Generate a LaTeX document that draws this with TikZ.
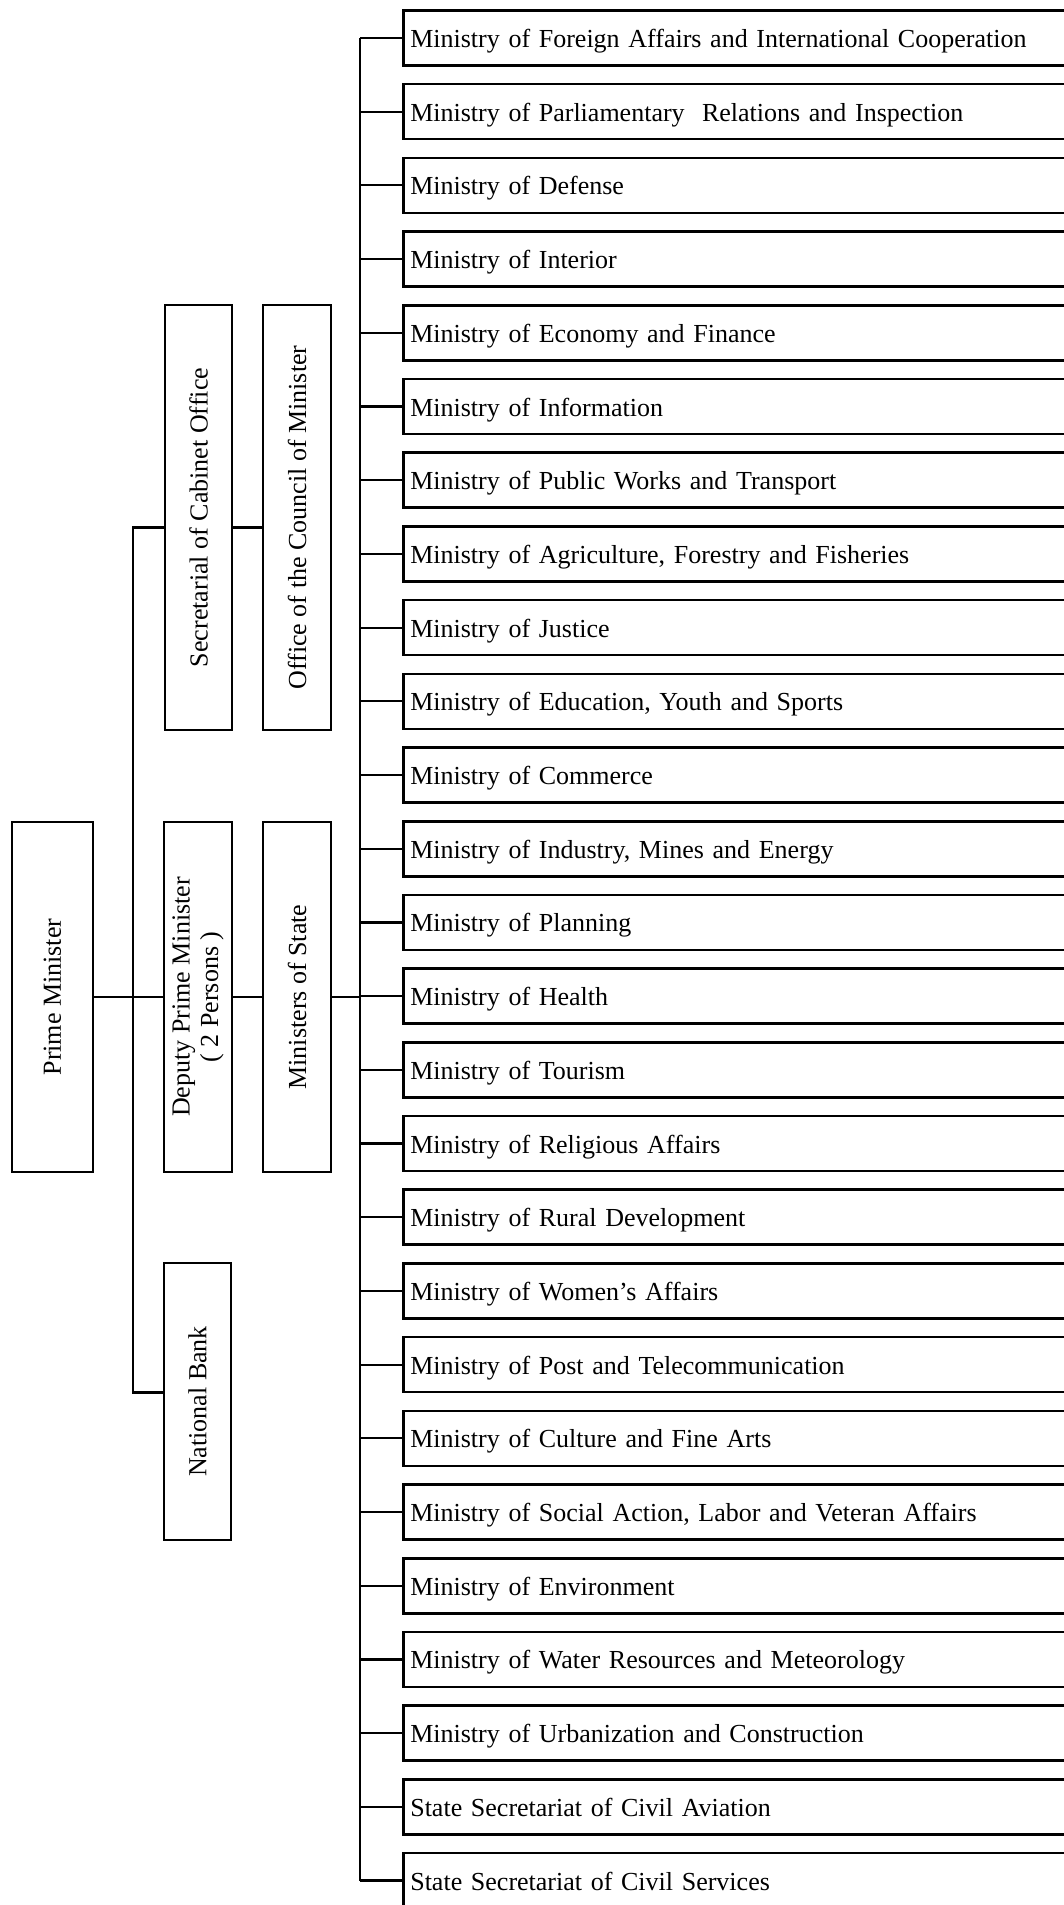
\documentclass[tikz,border=0pt]{standalone}
\usepackage{fontspec}
\setmainfont{Liberation Serif}
\usepackage{tikz}
\usetikzlibrary{positioning}
\tikzset{
    unit/.style={rectangle,draw,line width=2.6pt,inner sep=0pt,font=\fontsize{26}{30}\selectfont},
    ministry/.style={unit,anchor=west,text width=674pt,inner xsep=7pt,align=left,
        minimum height=55pt,text height=20pt,text depth=1pt},
    column/.style={unit,align=center},
    link/.style={line width=2.2pt},
}

\begin{document}
\begin{tikzpicture}[x=1pt,y=-1pt]
        \useasboundingbox (0,0) rectangle (1064,1905);
        \clip (0,0) rectangle (1064,1905);

        % left columns
        \node[column,minimum width=81pt,minimum height=350pt] (pm) at (52.5,997) {\rotatebox{90}{Prime Minister}};
        \node[column,minimum width=67pt,minimum height=425pt] (sec) at (198.5,517.5) {\rotatebox{90}{Secretarial of Cabinet Office}};
        \node[column,minimum width=68pt,minimum height=425pt] (off) at (297,517.5) {\rotatebox{90}{Office of the Council of Minister}};
        \node[column,minimum width=68pt,minimum height=350pt] (dpm) at (198,997) {\rotatebox{90}{\shortstack{Deputy Prime Minister\\[2pt]( 2 Persons )}}};
        \node[column,minimum width=68pt,minimum height=350pt] (mos) at (297,997) {\rotatebox{90}{Ministers of State}};
        \node[column,minimum width=67pt,minimum height=277pt] (nb) at (197.5,1401.5) {\rotatebox{90}{National Bank}};

        % ministries
        \node[ministry] (m1) at (402,38) {Ministry of Foreign Affairs and International Cooperation};
        \node[ministry] (m2) at (402,111.7) {Ministry of Parliamentary~ Relations and Inspection};
        \node[ministry] (m3) at (402,185.4) {Ministry of Defense};
        \node[ministry] (m4) at (402,259.1) {Ministry of Interior};
        \node[ministry] (m5) at (402,332.8) {Ministry of Economy and Finance};
        \node[ministry] (m6) at (402,406.5) {Ministry of Information};
        \node[ministry] (m7) at (402,480.2) {Ministry of Public Works and Transport};
        \node[ministry] (m8) at (402,553.9) {Ministry of Agriculture, Forestry and Fisheries};
        \node[ministry] (m9) at (402,627.6) {Ministry of Justice};
        \node[ministry] (m10) at (402,701.3) {Ministry of Education, Youth and Sports};
        \node[ministry] (m11) at (402,775) {Ministry of Commerce};
        \node[ministry] (m12) at (402,848.7) {Ministry of Industry, Mines and Energy};
        \node[ministry] (m13) at (402,922.4) {Ministry of Planning};
        \node[ministry] (m14) at (402,996.1) {Ministry of Health};
        \node[ministry] (m15) at (402,1069.8) {Ministry of Tourism};
        \node[ministry] (m16) at (402,1143.5) {Ministry of Religious Affairs};
        \node[ministry] (m17) at (402,1217.2) {Ministry of Rural Development};
        \node[ministry] (m18) at (402,1290.9) {Ministry of Women's Affairs};
        \node[ministry] (m19) at (402,1364.6) {Ministry of Post and Telecommunication};
        \node[ministry] (m20) at (402,1438.3) {Ministry of Culture and Fine Arts};
        \node[ministry] (m21) at (402,1512) {Ministry of Social Action, Labor and Veteran Affairs};
        \node[ministry] (m22) at (402,1585.7) {Ministry of Environment};
        \node[ministry] (m23) at (402,1659.4) {Ministry of Water Resources and Meteorology};
        \node[ministry] (m24) at (402,1733.1) {Ministry of Urbanization and Construction};
        \node[ministry] (m25) at (402,1806.8) {State Secretariat of Civil Aviation};
        \node[ministry] (m26) at (402,1880.5) {State Secretariat of Civil Services};

        \coordinate (trunk) at (133,997);
        \coordinate (bus) at (360,997);

        \draw[link] (pm.east) -- (dpm.west);
        \draw[link] (dpm.east) -- (mos.west);
        \draw[link] ([yshift=-10pt]sec.east) -- ([yshift=-10pt]off.west);
        \draw[link] ([yshift=-10pt]sec.west) -| (trunk) |- ([yshift=9pt]nb.west);
        \draw[link] (mos.east) -- (bus);
        \draw[link] (m1.west -| bus) -- (m26.west -| bus);
        \foreach \i in {1,...,26}
            \draw[link] (m\i.west -| bus) -- (m\i.west);
\end{tikzpicture}
\end{document}
